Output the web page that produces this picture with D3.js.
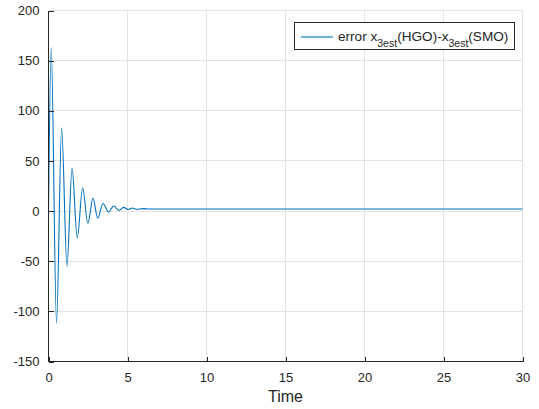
<!DOCTYPE html>
<html>
<head>
<meta charset="utf-8">
<script src="https://cdn.jsdelivr.net/npm/d3@7"></script>
<style>
  body { margin: 0; background: #fff; }
  text { font-family: "Liberation Sans", Arial, Helvetica, sans-serif; fill: #262626; }
</style>
</head>
<body>
<div id="chart"></div>
<script>
// values (extremes of the damped oscillation)
var times  = [0, 0.17, 0.51, 0.83, 1.17, 1.49, 1.82, 2.16, 2.49, 2.82, 3.11, 3.45, 3.80, 4.12, 4.48, 4.75, 5.05, 5.30, 5.62, 5.95, 6.4, 30];
var errors = [-1, 163, -112, 83, -55, 43, -27, 23, -12, 13, -7, 7.5, -1, 5, 0.5, 3.7, 1.5, 3, 1.8, 2.4, 2, 2];
var xTicks = [0, 5, 10, 15, 20, 25, 30];
var yTicks = [-150, -100, -50, 0, 50, 100, 150, 200];

var width = 539, height = 409;
var plotLeft = 48.5, plotTop = 10.5, plotRight = 522.5, plotBottom = 361.5;

var svg = d3.select('#chart').append('svg')
        .attr('width', width)
        .attr('height', height);
svg.append('rect').attr('width', width).attr('height', height).style('fill', '#fff');

var x = d3.scaleLinear().domain([0, 30]).range([plotLeft, plotRight]);
var y = d3.scaleLinear().domain([-150, 200]).range([plotBottom, plotTop]);

//grid
var grid = svg.append('g').attr('shape-rendering', 'crispEdges');
grid.selectAll('.gx').data(xTicks.slice(1)).enter().append('line')
        .attr('x1', function (d) { return x(d); })
        .attr('x2', function (d) { return x(d); })
        .attr('y1', plotTop).attr('y2', plotBottom)
        .style('stroke', '#e3e3e3');
grid.selectAll('.gy').data(yTicks.slice(1)).enter().append('line')
        .attr('y1', function (d) { return y(d); })
        .attr('y2', function (d) { return y(d); })
        .attr('x1', plotLeft).attr('x2', plotRight)
        .style('stroke', '#e3e3e3');

//data line
var line = d3.line()
        .x(function (d) { return x(d[0]); })
        .y(function (d) { return y(d[1]); })
        .curve(d3.curveMonotoneX);
svg.append('path')
        .datum(d3.zip(times, errors))
        .attr('d', line)
        .style('fill', 'none')
        .style('stroke', '#0072BD')
        .style('stroke-width', 1.1);

//axes (ticks inward), plain hyphen for negatives like the original
var plain = function (d) { return String(d); };
var xAxis = svg.append('g').attr('transform', 'translate(0,' + plotBottom + ')')
        .call(d3.axisBottom(x).tickValues(xTicks).tickFormat(plain).tickSize(-5).tickPadding(11));
var yAxis = svg.append('g').attr('transform', 'translate(' + plotLeft + ',0)')
        .call(d3.axisLeft(y).tickValues(yTicks).tickFormat(plain).tickSize(-5).tickPadding(9));
[xAxis, yAxis].forEach(function (a) {
    a.select('.domain').attr('d', a === xAxis ? 'M' + plotLeft + ',0H' + plotRight : 'M0,' + plotTop + 'V' + plotBottom)
            .style('stroke', '#262626').attr('shape-rendering', 'crispEdges');
    a.selectAll('.tick line').style('stroke', '#262626').attr('shape-rendering', 'crispEdges');
    a.selectAll('text').style('font-size', '13px').style('fill', '#262626')
            .style('font-family', '"Liberation Sans", Arial, sans-serif');
});

svg.append('text')
        .attr('x', (plotLeft + plotRight) / 2)
        .attr('y', 402)
        .attr('text-anchor', 'middle')
        .style('font-size', '16px')
        .text('Time');

//legend
var lg = svg.append('g');
lg.append('rect')
        .attr('x', 294.5).attr('y', 22.5)
        .attr('width', 220).attr('height', 27)
        .style('fill', '#fff').style('stroke', '#262626').style('stroke-width', 1);
lg.append('line')
        .attr('x1', 301).attr('x2', 333)
        .attr('y1', 37).attr('y2', 37)
        .style('stroke', '#0072BD').style('stroke-width', 1.1);
var lt = lg.append('text').attr('x', 338).attr('y', 41).style('font-size', '13.6px');
lt.append('tspan').text('error x');
lt.append('tspan').attr('dy', 6).style('font-size', '10.5px').text('3est');
lt.append('tspan').attr('dy', -6).text('(HGO)-x');
lt.append('tspan').attr('dy', 6).style('font-size', '10.5px').text('3est');
lt.append('tspan').attr('dy', -6).text('(SMO)');
</script>
</body>
</html>
